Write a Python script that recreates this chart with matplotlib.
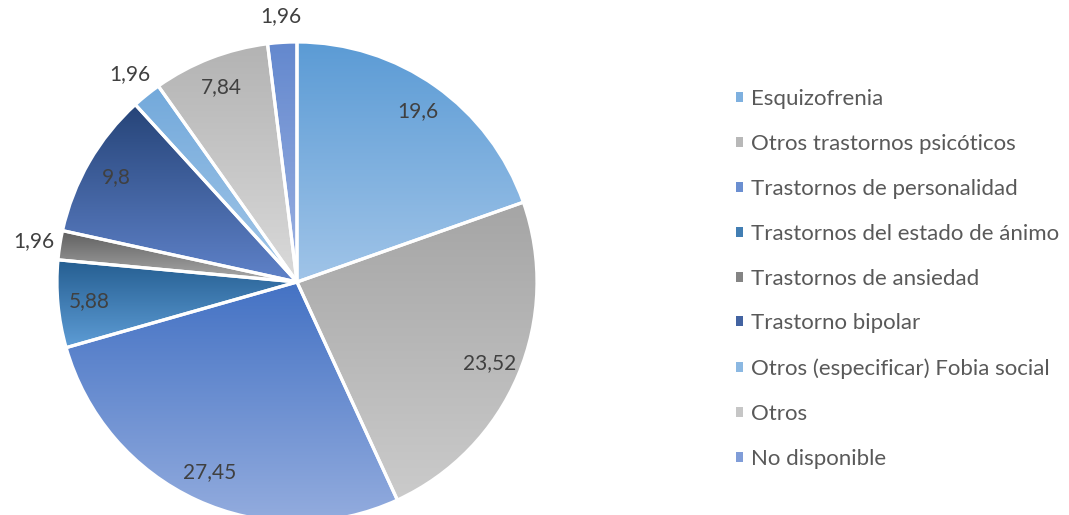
import numpy as np
import matplotlib
matplotlib.use("Agg")
import matplotlib.pyplot as plt
from matplotlib.colors import LinearSegmentedColormap
from matplotlib.patches import Wedge, Patch

categorias = [
    "Esquizofrenia",
    "Otros trastornos psicóticos",
    "Trastornos de personalidad",
    "Trastornos del estado de ánimo",
    "Trastornos de ansiedad",
    "Trastorno bipolar",
    "Otros (especificar) Fobia social",
    "Otros",
    "No disponible",
]
valores = [19.6, 23.52, 27.45, 5.88, 1.96, 9.8, 1.96, 7.84, 1.96]
etiquetas = ["19,6", "23,52", "27,45", "5,88", "1,96", "9,8", "1,96", "7,84", "1,96"]

# (arriba, abajo) para el degradado de cada sector
color_arriba = ["#5B9BD5", "#A5A5A5", "#4472C4", "#255E91", "#5E5E5E",
                "#264478", "#73A9DB", "#B3B3B3", "#6388CE"]
color_abajo = ["#A0C4E8", "#CBCBCB", "#93ACDE", "#5E9DD6", "#ABABAB",
               "#5F82C9", "#A3C7E8", "#DADADA", "#9DB2E2"]

plt.rcParams['font.family'] = ['Lato', 'DejaVu Sans']

fig = plt.figure(figsize=(10.69, 5.15), dpi=100)
W, H = 1069, 515
cx, cy, R = 297, 282, 240
ax = fig.add_axes([(cx - R) / W, (H - cy - R) / H, 2 * R / W, 2 * R / H])

mid_colors = []
for a, b in zip(color_arriba, color_abajo):
    ca = np.array(matplotlib.colors.to_rgb(a))
    cb = np.array(matplotlib.colors.to_rgb(b))
    mid_colors.append((ca + cb) / 2)

wedges, _ = ax.pie(valores, startangle=90, counterclock=False, colors=mid_colors,
                   radius=1, wedgeprops=dict(linewidth=0))

grad = np.linspace(0, 1, 256).reshape(-1, 1)
for i, w in enumerate(wedges):
    ext = w.get_path().get_extents()
    cmap = LinearSegmentedColormap.from_list("g%d" % i, [color_abajo[i], color_arriba[i]])
    im = ax.imshow(grad, cmap=cmap, origin="lower", aspect="auto",
                   extent=[ext.x0, ext.x1, ext.y0, ext.y1], zorder=2)
    im.set_clip_path(w)
    borde = Wedge(w.center, w.r, w.theta1, w.theta2, fill=False,
                  edgecolor="white", linewidth=2.3, zorder=3)
    ax.add_patch(borde)

    ang = np.deg2rad((w.theta1 + w.theta2) / 2)
    dist = 1.11 if valores[i] < 3 else 0.87
    ax.text(dist * np.cos(ang), dist * np.sin(ang), etiquetas[i],
            ha="center", va="center", fontsize=15, color="#404040", zorder=4)

ax.set_xlim(-1, 1)
ax.set_ylim(-1, 1)
ax.set_aspect("equal")
ax.axis("off")

handles = [Patch(facecolor=c, edgecolor="none") for c in mid_colors]
fig.legend(handles, categorias, loc="upper left", bbox_to_anchor=(736 / W, 1 - 89 / H),
           frameon=False, fontsize=16, labelcolor="#595959",
           handlelength=0.32, handleheight=0.32, handletextpad=0.36, labelspacing=1.12,
           borderaxespad=0, borderpad=0)

fig.savefig("out.png", dpi=100)
